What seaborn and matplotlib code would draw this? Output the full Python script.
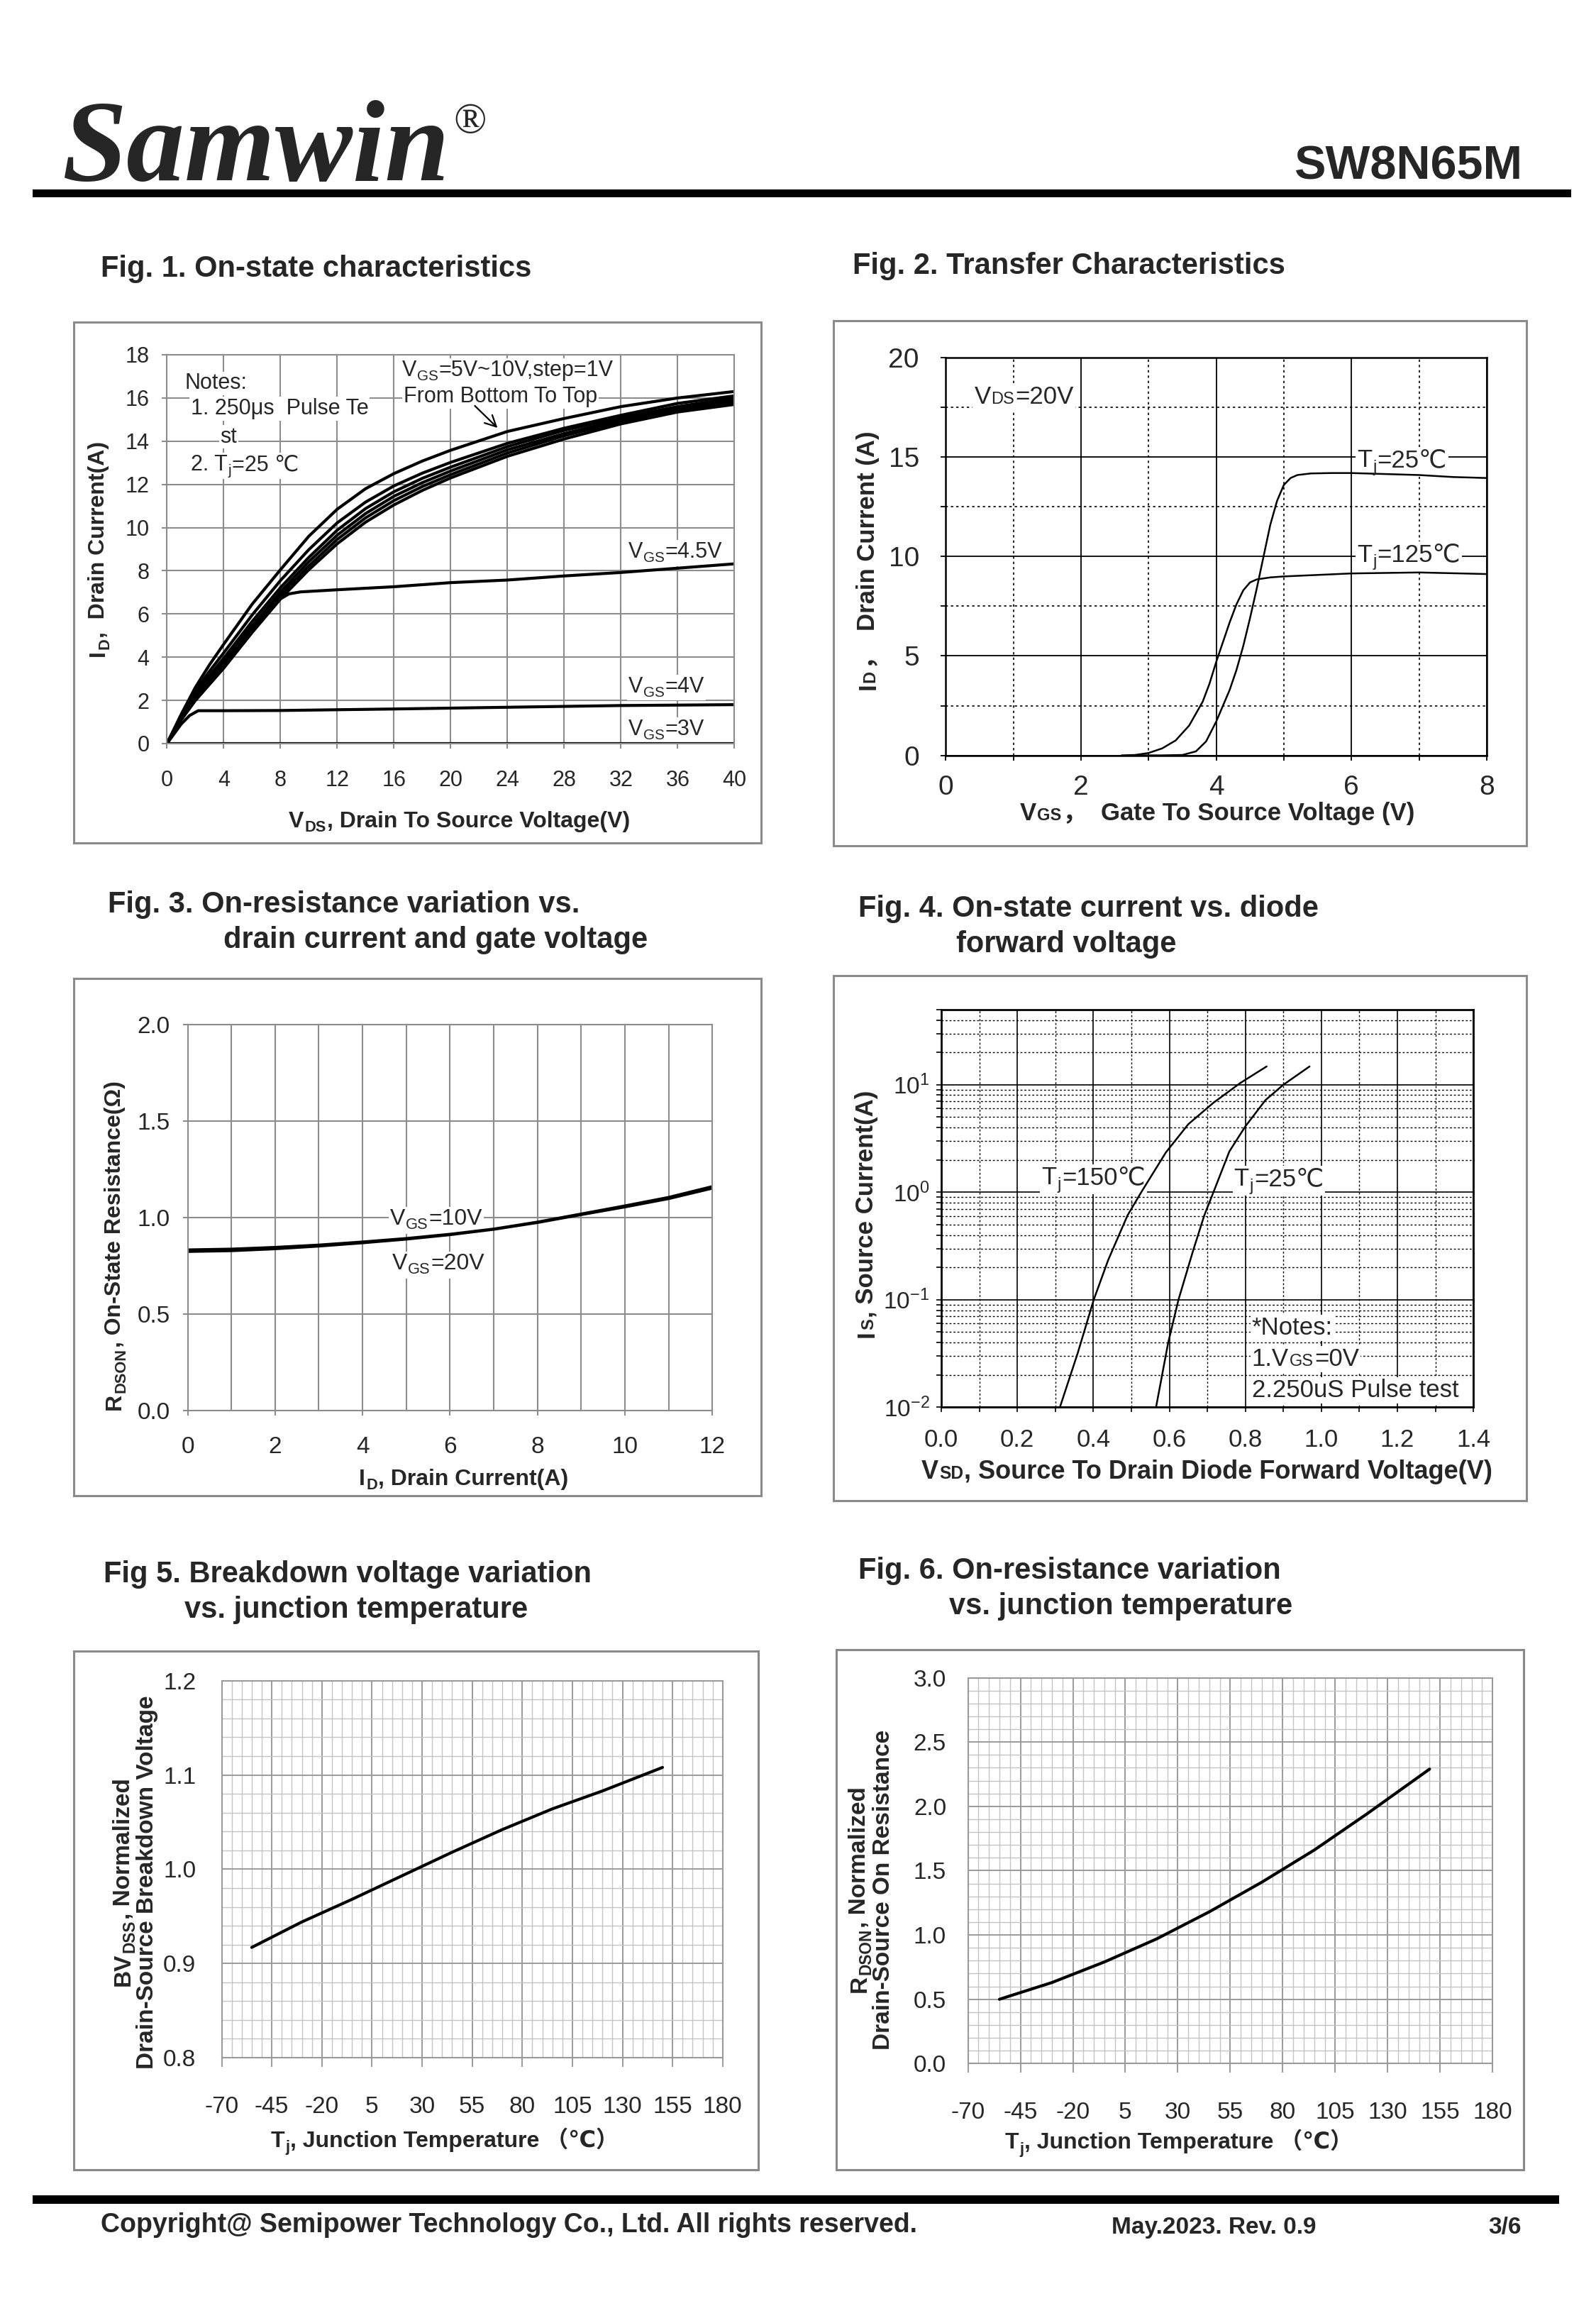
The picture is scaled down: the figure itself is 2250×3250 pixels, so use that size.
import matplotlib
matplotlib.use('Agg')
import matplotlib.pyplot as plt
import seaborn as sns
import numpy as np
import pandas as pd
from matplotlib.transforms import IdentityTransform, Bbox
from matplotlib.patches import Rectangle
from matplotlib.ticker import MultipleLocator, FixedLocator, LogLocator, NullFormatter, FormatStrFormatter

sns.set_style('white')
plt.rcParams['font.family'] = ['Liberation Sans', 'DejaVu Sans', 'Noto Sans CJK SC']
plt.rcParams['mathtext.fontset'] = 'custom'
plt.rcParams['mathtext.rm'] = 'Liberation Sans'
plt.rcParams['mathtext.default'] = 'regular'
plt.rcParams['axes.unicode_minus'] = False

# ---- Fig 1: on-state characteristics ----
vds = [0, 1, 2, 3, 4, 6, 8, 10, 12, 14, 16, 18, 20, 24, 28, 32, 36, 40]
id_5v = [0, 1.10, 2.00, 2.75, 3.50, 5.15, 6.70, 8.05, 9.25, 10.25, 11.05, 11.72, 12.30, 13.30, 14.10, 14.80, 15.35, 15.70]
id_6v = [0, 1.15, 2.10, 2.85, 3.65, 5.30, 6.85, 8.22, 9.45, 10.45, 11.25, 11.90, 12.45, 13.45, 14.25, 14.90, 15.45, 15.80]
id_7v = [0, 1.20, 2.20, 3.00, 3.80, 5.45, 7.02, 8.42, 9.65, 10.65, 11.45, 12.08, 12.62, 13.60, 14.35, 15.00, 15.50, 15.90]
id_8v = [0, 1.25, 2.30, 3.15, 3.95, 5.65, 7.22, 8.62, 9.88, 10.88, 11.66, 12.28, 12.80, 13.75, 14.50, 15.10, 15.60, 16.00]
id_9v = [0, 1.30, 2.45, 3.35, 4.20, 5.95, 7.55, 8.98, 10.22, 11.18, 11.93, 12.52, 13.02, 13.90, 14.60, 15.20, 15.75, 16.10]
id_10v = [0, 1.35, 2.60, 3.65, 4.60, 6.45, 8.05, 9.60, 10.85, 11.80, 12.50, 13.08, 13.58, 14.45, 15.05, 15.60, 16.00, 16.30]
vds_45 = [0, 1, 2, 3, 4, 6, 8, 8.6, 9.4, 12, 16, 20, 24, 28, 32, 36, 40]
id_45 = [0, 1.10, 2.00, 2.75, 3.50, 5.15, 6.70, 6.93, 7.02, 7.12, 7.26, 7.45, 7.57, 7.76, 7.92, 8.12, 8.32]
vds_4 = [0, 1, 1.6, 2.2, 4, 8, 16, 24, 32, 40]
id_4 = [0, 0.90, 1.30, 1.52, 1.52, 1.53, 1.60, 1.68, 1.76, 1.80]
vds_3 = [0, 40]
id_3 = [0, 0]

# ---- Fig 2: transfer characteristics ----
vgs_25 = [2.8, 3.2, 3.5, 3.7, 3.85, 4.0, 4.1, 4.2, 4.3, 4.4, 4.5, 4.6, 4.7, 4.8, 4.9, 5.0, 5.1, 5.2,
          5.4, 5.7, 6.0, 6.5, 7.0, 7.5, 8.0]
id_25 = [0, 0, 0.02, 0.2, 0.7, 1.7, 2.5, 3.3, 4.3, 5.5, 6.9, 8.4, 10.0, 11.6, 12.8, 13.6, 13.95, 14.1,
         14.18, 14.2, 14.2, 14.15, 14.1, 14.0, 13.95]
vgs_125 = [2.6, 2.8, 3.0, 3.2, 3.4, 3.6, 3.8, 3.9, 4.0, 4.1, 4.2, 4.3, 4.4, 4.5, 4.6, 4.8, 5.0, 6.0, 7.0, 8.0]
id_125 = [0, 0.02, 0.12, 0.35, 0.75, 1.5, 2.7, 3.6, 4.7, 5.7, 6.7, 7.6, 8.3, 8.7, 8.85, 8.95, 9.0, 9.15, 9.2, 9.12]

# ---- Fig 3: on-resistance vs drain current ----
id_r = [0, 1, 2, 3, 4, 5, 6, 7, 8, 9, 10, 11, 12]
r_10v = [0.832, 0.836, 0.845, 0.857, 0.873, 0.891, 0.913, 0.940, 0.976, 1.018, 1.060, 1.104, 1.160]
r_20v = [0.822, 0.826, 0.836, 0.850, 0.867, 0.886, 0.909, 0.937, 0.972, 1.013, 1.053, 1.096, 1.150]

# ---- Fig 4: body diode ----
vsd_150 = [0.312, 0.359, 0.401, 0.439, 0.49, 0.526, 0.591, 0.65, 0.716, 0.787, 0.856]
is_150 = [0.01, 0.032, 0.1, 0.234, 0.61, 1.0, 2.35, 4.3, 6.8, 10.4, 14.8]
vsd_25 = [0.565, 0.597, 0.624, 0.663, 0.692, 0.716, 0.758, 0.80, 0.853, 0.90, 0.969]
is_25 = [0.01, 0.04, 0.1, 0.29, 0.61, 1.0, 2.4, 4.1, 7.2, 10.0, 14.8]

# ---- Fig 5 / Fig 6: temperature ----
tj = [-55, -30, -5, 20, 45, 70, 95, 120, 150]
bv_norm = [0.917, 0.944, 0.968, 0.993, 1.018, 1.042, 1.064, 1.083, 1.108]
rds_norm = [0.50, 0.63, 0.79, 0.97, 1.18, 1.41, 1.66, 1.94, 2.29]
tj_ticks = [-70, -45, -20, 5, 30, 55, 80, 105, 130, 155, 180]

W, H = 2250, 3250
S = W / 1080.0
fig = plt.figure(figsize=(W / 100, H / 100), dpi=100)
R = fig.canvas.get_renderer()
IT = IdentityTransform()


def P(xr, yr):
    # position (1080 wide) -> figure pixels
    return xr * S, H - yr * S


def add_ax(x0, x1, y0, y1):
    return fig.add_axes([x0 * S / W, 1 - y1 * S / H, (x1 - x0) * S / W, (y1 - y0) * S / H])


def DA(ax, x, y):
    return tuple(ax.transData.transform((x, y)))


def rich(xy, parts, fs, rot=0, ha='left', va='center', weight='normal', bg=None):
    # text made of pieces: 'n' normal, 'sub' subscript, 'sc' small letters on the baseline
    em = fs * 100 / 72.0
    up = np.array([-1.0, 0.0]) if rot else np.array([0.0, 1.0])
    along = np.array([0.0, 1.0]) if rot else np.array([1.0, 0.0])
    base = np.array(xy, float)
    if va == 'center':
        base = base - 0.36 * em * up
    arts = []
    for s, st in parts:
        size = fs * (0.68 if st != 'n' else 1.0)
        t = fig.text(0, 0, s, fontsize=size, fontweight=weight, rotation=rot, rotation_mode='anchor',
                     ha='left', va='baseline', transform=IT, zorder=6)
        ext = t.get_window_extent(R)
        arts.append((t, st, (ext.height if rot else ext.width) + 0.03 * em))
    total = sum(a[2] for a in arts)
    pos = {'left': 0.0, 'center': -total / 2, 'right': -total}[ha]
    for t, st, L in arts:
        drop = {'sub': -0.2 * em}.get(st, 0.0)
        p = base + along * pos + up * drop
        t.set_position((p[0], p[1]))
        pos += L
    if bg is not None:
        bb = Bbox.union([t.get_window_extent(R) for t, _, _ in arts])
        pad = 0.06 * em
        bg.add_artist(Rectangle((bb.x0 - pad, bb.y0 - pad), bb.width + 2 * pad, bb.height + 2 * pad,
                                transform=IT, facecolor='white', edgecolor='none', zorder=1.5))


def page_rect(x0, y0, x1, y1, **kw):
    X0, Y1 = P(x0, y0)
    X1, Y0 = P(x1, y1)
    fig.add_artist(Rectangle((X0, Y0), X1 - X0, Y1 - Y0, transform=IT, **kw))


def frame(ax, color, lw):
    for sp in ax.spines.values():
        sp.set_visible(True)
        sp.set_color(color)
        sp.set_linewidth(lw)
    ax.set_axisbelow(True)
    ax.set_xlabel('')
    ax.set_ylabel('')


# ---------------- Fig 1 ----------------
ax1 = add_ax(113, 497, 240, 503)
df1 = pd.concat([pd.DataFrame({'vds': x, 'id': y, 'vgs': k}) for k, x, y in [
    ('5V', vds, id_5v), ('6V', vds, id_6v), ('7V', vds, id_7v), ('8V', vds, id_8v),
    ('9V', vds, id_9v), ('10V', vds, id_10v), ('4.5V', vds_45, id_45), ('4V', vds_4, id_4),
    ('3V', vds_3, id_3)]])
sns.lineplot(data=df1, x='vds', y='id', units='vgs', estimator=None, sort=False, color='black',
             linewidth=3, ax=ax1)
ax1.set_xlim(0, 40)
ax1.set_ylim(0, 18)
ax1.set_xticks(range(0, 41, 4))
ax1.set_yticks(range(0, 19, 2))
frame(ax1, '#8c8c8c', 1.5)
ax1.grid(True, color='#8c8c8c', lw=1.5)
ax1.tick_params(bottom=True, left=True, length=5, width=1.5, color='#8c8c8c', labelsize=22, direction='out')
ax1.tick_params(axis='x', pad=22)
ax1.tick_params(axis='y', pad=13)
ax1.annotate('', xy=(23.4, 14.55), xytext=(21.6, 15.7),
             arrowprops=dict(arrowstyle='->', lw=1.6, color='black', mutation_scale=28))

# ---------------- Fig 2 ----------------
ax2 = add_ax(640, 1006, 242, 511)
sns.lineplot(x=vgs_25, y=id_25, color='black', linewidth=1.8, ax=ax2)
sns.lineplot(x=vgs_125, y=id_125, color='black', linewidth=1.8, ax=ax2)
ax2.set_xlim(0, 8)
ax2.set_ylim(0, 20)
ax2.xaxis.set_major_locator(MultipleLocator(2))
ax2.xaxis.set_minor_locator(MultipleLocator(1))
ax2.yaxis.set_major_locator(MultipleLocator(5))
ax2.yaxis.set_minor_locator(MultipleLocator(2.5))
frame(ax2, 'black', 1.8)
ax2.grid(True, which='major', color='black', lw=1.3)
ax2.grid(True, which='minor', color='black', lw=1.2, ls=(0, (2, 2.5)))
ax2.tick_params(which='both', bottom=True, left=True, length=5, width=1.3, color='black', direction='out')
ax2.tick_params(labelsize=28)
ax2.tick_params(axis='x', pad=15)
ax2.tick_params(axis='y', pad=22)

# ---------------- Fig 3 ----------------
ax3 = add_ax(127, 482, 693, 954)
sns.lineplot(x=id_r, y=r_10v, color='black', linewidth=2.6, ax=ax3)
sns.lineplot(x=id_r, y=r_20v, color='black', linewidth=2.6, ax=ax3)
ax3.set_xlim(0, 12)
ax3.set_ylim(0, 2.0)
ax3.xaxis.set_major_locator(MultipleLocator(2))
ax3.xaxis.set_minor_locator(MultipleLocator(1))
ax3.yaxis.set_major_locator(MultipleLocator(0.5))
ax3.yaxis.set_major_formatter(FormatStrFormatter('%.1f'))
frame(ax3, '#8c8c8c', 1.5)
ax3.grid(True, which='both', color='#8c8c8c', lw=1.5)
ax3.tick_params(bottom=True, left=True, length=5, width=1.5, color='#8c8c8c', labelsize=24, direction='out')
ax3.tick_params(which='minor', length=0)
ax3.tick_params(axis='x', pad=21)
ax3.tick_params(axis='y', pad=13)

# ---------------- Fig 4 ----------------
ax4 = add_ax(637, 997, 683, 952)
sns.lineplot(x=vsd_150, y=is_150, color='black', linewidth=1.8, ax=ax4)
sns.lineplot(x=vsd_25, y=is_25, color='black', linewidth=1.8, ax=ax4)
ax4.set_yscale('log')
ax4.set_xlim(0, 1.4)
ax4.set_ylim(0.01, 50)
ax4.xaxis.set_major_locator(MultipleLocator(0.2))
ax4.xaxis.set_minor_locator(MultipleLocator(0.1))
ax4.xaxis.set_major_formatter(FormatStrFormatter('%.1f'))
ax4.yaxis.set_major_locator(FixedLocator([0.01, 0.1, 1, 10]))
ax4.yaxis.set_minor_locator(LogLocator(base=10, subs=np.arange(2, 10), numticks=30))
ax4.yaxis.set_minor_formatter(NullFormatter())
frame(ax4, 'black', 2)
ax4.grid(True, which='major', color='black', lw=1.2)
ax4.grid(True, which='minor', color='black', lw=1.0, ls=(0, (2, 2)))
ax4.tick_params(which='both', bottom=True, left=True, length=5, width=1.2, color='black', direction='out')
ax4.tick_params(axis='x', labelsize=25, pad=16)
ax4.tick_params(axis='y', labelsize=24, pad=7)

# ---------------- Fig 5 ----------------
ax5 = add_ax(150, 489, 1137, 1392)
sns.lineplot(x=tj, y=bv_norm, color='black', linewidth=3, ax=ax5)
ax5.set_xlim(-70, 180)
ax5.set_ylim(0.8, 1.2)
ax5.xaxis.set_major_locator(FixedLocator(tj_ticks))
ax5.xaxis.set_minor_locator(MultipleLocator(5))
ax5.yaxis.set_major_locator(MultipleLocator(0.1))
ax5.yaxis.set_minor_locator(MultipleLocator(0.02))
ax5.yaxis.set_major_formatter(FormatStrFormatter('%.1f'))
frame(ax5, '#9a9a9a', 1.5)
ax5.grid(True, which='major', color='#9a9a9a', lw=1.4)
ax5.grid(True, which='minor', color='#c4c4c4', lw=1.0)
ax5.tick_params(axis='x', bottom=True, length=9, width=1.4, color='#9a9a9a', labelsize=24, direction='out', pad=30)
ax5.tick_params(axis='y', left=False, length=0, labelsize=24, pad=26)
ax5.tick_params(which='minor', length=0)

# ---------------- Fig 6 ----------------
ax6 = add_ax(655, 1010, 1135, 1396)
sns.lineplot(x=tj, y=rds_norm, color='black', linewidth=3, ax=ax6)
ax6.set_xlim(-70, 180)
ax6.set_ylim(0, 3.0)
ax6.xaxis.set_major_locator(FixedLocator(tj_ticks))
ax6.xaxis.set_minor_locator(MultipleLocator(5))
ax6.yaxis.set_major_locator(MultipleLocator(0.5))
ax6.yaxis.set_minor_locator(MultipleLocator(0.1))
ax6.yaxis.set_major_formatter(FormatStrFormatter('%.1f'))
frame(ax6, '#9a9a9a', 1.5)
ax6.grid(True, which='major', color='#9a9a9a', lw=1.4)
ax6.grid(True, which='minor', color='#c4c4c4', lw=1.0)
ax6.tick_params(axis='x', bottom=True, length=9, width=1.4, color='#9a9a9a', labelsize=24, direction='out', pad=30)
ax6.tick_params(axis='y', left=False, length=0, labelsize=24, pad=22)
ax6.tick_params(which='minor', length=0)

# ---------------- in-plot notes ----------------
rich(DA(ax1, 1.25, 16.77), [('Notes:', 'n')], 22, bg=ax1)
rich(DA(ax1, 1.67, 15.6), [('1. 250μs  Pulse Te', 'n')], 22, bg=ax1)
rich(DA(ax1, 3.75, 14.3), [('st', 'n')], 22, bg=ax1)
rich(DA(ax1, 1.67, 13.0), [('2. T', 'n'), ('j', 'sub'), ('=25 ℃', 'n')], 22, bg=ax1)
rich(DA(ax1, 16.56, 17.39), [('V', 'n'), ('GS', 'sub'), ('=5V~10V,step=1V', 'n')], 22, bg=ax1)
rich(DA(ax1, 16.67, 16.15), [('From Bottom To Top', 'n')], 22, bg=ax1)
rich(DA(ax1, 32.5, 8.97), [('V', 'n'), ('GS', 'sub'), ('=4.5V', 'n')], 22, bg=ax1)
rich(DA(ax1, 32.5, 2.74), [('V', 'n'), ('GS', 'sub'), ('=4V', 'n')], 22, bg=ax1)
rich(DA(ax1, 32.5, 0.75), [('V', 'n'), ('GS', 'sub'), ('=3V', 'n')], 22, bg=ax1)

rich(DA(ax2, 0.42, 18.14), [('V', 'n'), ('DS', 'sc'), ('=20V', 'n')], 25, bg=ax2)
rich(DA(ax2, 6.08, 14.94), [('T', 'n'), ('j', 'sub'), ('=25℃', 'n')], 25, bg=ax2)
rich(DA(ax2, 6.08, 10.19), [('T', 'n'), ('j', 'sub'), ('=125℃', 'n')], 25, bg=ax2)

rich(DA(ax3, 4.63, 1.004), [('V', 'n'), ('GS', 'sub'), ('=10V', 'n')], 23, bg=ax3)
rich(DA(ax3, 4.67, 0.774), [('V', 'n'), ('GS', 'sub'), ('=20V', 'n')], 23, bg=ax3)

rich(DA(ax4, 0.264, 1.44), [('T', 'n'), ('j', 'sub'), ('=150℃', 'n')], 25, bg=ax4)
rich(DA(ax4, 0.77, 1.40), [('T', 'n'), ('j', 'sub'), ('=25℃', 'n')], 25, bg=ax4)
rich(DA(ax4, 0.817, 0.057), [('*Notes:', 'n')], 25, bg=ax4)
rich(DA(ax4, 0.817, 0.0294), [('1.V', 'n'), ('GS', 'sc'), ('=0V', 'n')], 25, bg=ax4)
rich(DA(ax4, 0.817, 0.0151), [('2.250uS Pulse test', 'n')], 25, bg=ax4)

# ---------------- axis labels ----------------
B = 'bold'
rich(P(65, 371), [('I', 'n'), ('D', 'sub'), (',  Drain Current(A)', 'n')], 23, rot=90, ha='center', weight=B)
rich(P(311, 554), [('V', 'n'), ('DS', 'sub'), (', Drain To Source Voltage(V)', 'n')], 23, ha='center', weight=B)
rich(P(586, 379), [('I', 'n'), ('D', 'sc'), ('，  Drain Current (A)', 'n')], 25, rot=90, ha='center', weight=B)
rich(P(824, 549), [('V', 'n'), ('GS', 'sc'), ('，  Gate To Source Voltage (V)', 'n')], 25, ha='center', weight=B)
rich(P(76, 842), [('R', 'n'), ('DSON', 'sub'), (', On-State Resistance(Ω)', 'n')], 23, rot=90, ha='center', weight=B)
rich(P(314, 999), [('I', 'n'), ('D', 'sub'), (', Drain Current(A)', 'n')], 23, ha='center', weight=B)
rich(P(585, 821), [('I', 'n'), ('S', 'sc'), (', Source Current(A)', 'n')], 25, rot=90, ha='center', weight=B)
rich(P(817, 994), [('V', 'n'), ('SD', 'sc'), (', Source To Drain Diode Forward Voltage(V)', 'n')], 26,
     ha='center', weight=B)
rich(P(82, 1273), [('BV', 'n'), ('DSS', 'sub'), (', Normalized', 'n')], 24, rot=90, ha='center', weight=B)
rich(P(98, 1273), [('Drain-Source Breakdown Voltage', 'n')], 24, rot=90, ha='center', weight=B)
rich(P(301, 1447), [('T', 'n'), ('j', 'sub'), (', Junction Temperature （℃）', 'n')], 23, ha='center', weight=B)
rich(P(580, 1278), [('R', 'n'), ('DSON', 'sub'), (', Normalized', 'n')], 24, rot=90, ha='center', weight=B)
rich(P(596, 1278), [('Drain-Source On Resistance', 'n')], 24, rot=90, ha='center', weight=B)
rich(P(798, 1448), [('T', 'n'), ('j', 'sub'), (', Junction Temperature （℃）', 'n')], 23, ha='center', weight=B)

# ---------------- figure titles ----------------
titles = [((68, 180), 'Fig. 1. On-state characteristics'),
          ((577, 178), 'Fig. 2. Transfer Characteristics'),
          ((73, 610), 'Fig. 3. On-resistance variation vs.'),
          ((151, 634), 'drain current and gate voltage'),
          ((581, 613), 'Fig. 4. On-state current vs. diode'),
          ((647, 637), 'forward voltage'),
          ((70, 1063), 'Fig 5. Breakdown voltage variation'),
          ((125, 1087), 'vs. junction temperature'),
          ((581, 1061), 'Fig. 6. On-resistance variation'),
          ((642, 1085), 'vs. junction temperature')]
for (xr, yr), s in titles:
    rich(P(xr, yr), [(s, 'n')], 30, weight=B)

# ---------------- panel boxes ----------------
for x0, y0, x1, y1 in [(50, 218, 515, 570), (564, 217, 1033, 572), (50, 662, 515, 1012),
                       (564, 660, 1033, 1015), (50, 1117, 513, 1468), (566, 1116, 1031, 1468)]:
    page_rect(x0, y0, x1, y1, fill=False, edgecolor='#8a8a8a', lw=2.2, zorder=1)

# ---------------- header / footer ----------------
page_rect(22, 128, 1063, 133.5, facecolor='black', edgecolor='none', zorder=1)
page_rect(22, 1485, 1055, 1491, facecolor='black', edgecolor='none', zorder=1)
fig.text(*P(42, 122), 'Samwin', family='Liberation Serif', fontweight='bold', fontstyle='italic',
         fontsize=118, transform=IT, va='baseline')
fig.text(*P(307, 90), '®', family='Liberation Serif', fontsize=44, transform=IT, va='baseline')
fig.text(*P(1030, 121), 'SW8N65M', fontweight='bold', fontsize=48, transform=IT, ha='right', va='baseline')
fig.text(*P(68, 1510), 'Copyright@ Semipower Technology Co., Ltd. All rights reserved.', fontweight='bold',
         fontsize=27, transform=IT, va='baseline')
fig.text(*P(752, 1511), 'May.2023. Rev. 0.9', fontweight='bold', fontsize=24, transform=IT, va='baseline')
fig.text(*P(1007, 1511), '3/6', fontweight='bold', fontsize=24, transform=IT, va='baseline')

fig.savefig('out.png', dpi=100, facecolor='white')
